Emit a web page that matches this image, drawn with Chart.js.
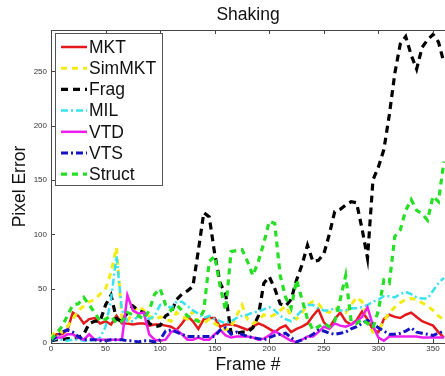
<!DOCTYPE html>
<html>
<head>
<meta charset="utf-8">
<script src="https://cdn.jsdelivr.net/npm/chart.js@4.4.1/dist/chart.umd.min.js"></script>
<style>
  html, body { margin: 0; padding: 0; background: #fff; }
  #wrap { width: 445px; height: 376px; }
</style>
</head>
<body>
<div id="wrap"><canvas id="myChart" width="445" height="376"></canvas></div>
<script>
// frame numbers (every 5 frames)
const frames = [0,5,10,15,20,25,30,35,40,45,50,55,60,65,70,75,80,85,90,95,
  100,105,110,115,120,125,130,135,140,145,150,155,160,165,170,175,180,185,190,195,
  200,205,210,215,220,225,230,235,240,245,250,255,260,265,270,275,280,285,290,295,
  300,305,310,315,320,325,330,335,340,345,350,355,360];

const mkt = [5,8,8,12,28,25,18,22,23,18, 20,17,25,18,18,17,18,18,16,17,
  17,16,15,12,18,25,20,13,22,23, 23,15,17,17,16,14,12,15,18,16,
  13,10,14,16,10,13,15,18,25,31, 19,14,22,28,20,17,21,29,22,12,
  10,22,26,24,23,26,28,24,20,18, 16,10,5];
const simMkt = [5,12,10,15,22,30,34,38,40,45, 50,65,88,22,20,28,34,30,25,21,
  24,22,20,28,24,22,29,20,18,22, 18,15,12,15,25,35,22,18,21,26,
  24,26,30,34,25,22,28,35,38,36, 30,28,32,30,28,35,42,38,20,10,
  12,20,28,33,37,40,41,40,37,34, 30,25,21];
const frag = [2,3,3,4,4,5,8,18,20,20, 35,44,22,20,28,34,30,28,18,15,
  16,25,28,40,45,48,52,85,120,116, 82,55,45,9,9,10,10,14,25,55,
  61,50,36,34,40,58,72,90,75,76, 82,100,121,123,127,130,129,105,78,150,
  162,178,210,248,275,282,265,252,272,279, 284,277,258];
const mil = [2,4,3,2,3,3,2,3,2,5, 15,40,80,30,20,20,25,26,22,25,
  35,36,32,38,38,34,30,27,23,25, 22,20,18,20,23,25,26,28,29,31,
  33,30,25,22,20,25,30,35,35,32, 30,30,32,30,30,32,32,33,35,38,
  40,43,43,42,45,47,45,42,41,41, 48,55,60];
const vtd = [3,5,5,8,8,5,3,8,3,3, 3,3,3,3,44,30,27,28,8,3,
  2,3,10,12,8,3,3,5,3,3, 8,12,7,5,6,6,6,5,3,4,
  7,11,8,5,2,1,3,6,6,10, 15,13,18,16,15,17,20,24,33,16,
  5,2,6,6,6,6,6,6,5,5, 5,5,5];
const vts = [2,6,10,12,10,6,3,3,3,2, 2,3,3,3,2,2,1,2,2,1,
  3,11,12,10,8,6,6,6,6,6, 6,12,14,8,10,8,6,5,4,3,
  5,7,8,9,5,1,3,5,8,12, 11,9,8,9,10,13,15,18,21,18,
  14,11,8,8,9,11,14,10,9,8, 7,9,11];
const struct = [3,9,15,25,35,36,42,35,28,20, 22,25,18,20,28,26,25,22,30,45,
  50,35,30,35,30,25,22,20,30,75, 80,52,30,84,85,86,75,62,75,92,
  112,110,62,42,32,58,40,22,12,15, 18,15,20,40,62,20,18,22,18,14,
  30,58,55,98,104,122,132,122,119,113, 135,130,167];

const xTicks = [0,50,100,150,200,250,300,350];
const yTicks = [0,50,100,150,200,250];

const FONT = '"Liberation Sans", Arial, Helvetica, sans-serif';

function series(label, values, color, dash, width, order) {
  return {
    label: label,
    data: frames.map((f, i) => ({x: f, y: values[i]})),
    borderColor: color,
    backgroundColor: color,
    borderDash: dash,
    borderWidth: width,
    pointRadius: 0,
    tension: 0,
    order: order
  };
}

// lines, ticks, legend and title like the matlab figure
const figurePlugin = {
  id: 'figurePlugin',
  afterDatasetsDraw(chart) {
    const {ctx, chartArea: a, scales} = chart;
    ctx.save();
    ctx.strokeStyle = '#444';
    ctx.lineWidth = 1;
    ctx.beginPath();
    ctx.moveTo(a.left, a.top + 0.5);
    ctx.lineTo(a.right, a.top + 0.5);
    xTicks.forEach(v => {
      const px = Math.round(scales.x.getPixelForValue(v)) + 0.5;
      ctx.moveTo(px, a.bottom); ctx.lineTo(px, a.bottom - 4);
      ctx.moveTo(px, a.top); ctx.lineTo(px, a.top + 4);
    });
    yTicks.forEach(v => {
      const py = Math.round(scales.y.getPixelForValue(v)) + 0.5;
      ctx.moveTo(a.left, py); ctx.lineTo(a.left + 4, py);
    });
    ctx.stroke();

    // legend box
    const lx = 55, ly = 33, lw = 107, lh = 152;
    ctx.fillStyle = '#fff';
    ctx.fillRect(lx, ly, lw, lh);
    ctx.strokeStyle = '#555';
    ctx.strokeRect(lx + 0.5, ly + 0.5, lw, lh);
    ctx.font = '17.5px ' + FONT;
    ctx.textBaseline = 'middle';
    chart.data.datasets.forEach((ds, i) => {
      const y = 47 + i * 21.2;
      ctx.strokeStyle = ds.borderColor;
      ctx.lineWidth = ds.borderWidth;
      ctx.setLineDash(ds.borderDash);
      ctx.beginPath();
      ctx.moveTo(61, y);
      ctx.lineTo(87, y);
      ctx.stroke();
      ctx.setLineDash([]);
      ctx.fillStyle = '#111';
      ctx.fillText(ds.label, 89, y + 1);
    });

    // title
    ctx.fillStyle = '#111';
    ctx.textAlign = 'center';
    ctx.fillText('Shaking', (a.left + a.right) / 2, 15);
    ctx.restore();
  }
};

const ctx = document.getElementById('myChart').getContext('2d');
const myChart = new Chart(ctx, {
  type: 'line',
  data: {
    datasets: [
      series('MKT', mkt, '#e3191c', [], 2.5, 7),
      series('SimMKT', simMkt, '#f2ec10', [6, 5], 3, 6),
      series('Frag', frag, '#000000', [7, 5], 3.2, 5),
      series('MIL', mil, '#38e2ee', [7, 3, 2, 3], 2.5, 4),
      series('VTD', vtd, '#ee1fee', [], 2.5, 3),
      series('VTS', vts, '#1414c4', [7, 3, 2, 3], 3, 2),
      series('Struct', struct, '#25e025', [6, 5], 3.2, 1)
    ]
  },
  options: {
    responsive: false,
    animation: false,
    layout: { padding: { top: 30, right: 0, left: 0, bottom: 0 } },
    plugins: {
      legend: { display: false },
      title: { display: false },
      tooltip: { enabled: false }
    },
    scales: {
      x: {
        type: 'linear',
        min: 0,
        max: 361,
        afterBuildTicks: s => { s.ticks = xTicks.map(v => ({value: v})); },
        afterFit: s => { s.height = 33; },
        grid: { display: false, drawTicks: false },
        border: { display: true, color: '#444', width: 1 },
        ticks: { padding: 1, color: '#333', font: { size: 8, family: FONT }, maxRotation: 0 },
        title: {
          display: true, text: 'Frame #', color: '#111',
          font: { size: 17.5, family: FONT }, padding: { top: 0, bottom: 0 }
        }
      },
      y: {
        min: 0,
        max: 288,
        afterBuildTicks: s => { s.ticks = yTicks.map(v => ({value: v})); },
        afterFit: s => { s.width = 51; },
        grid: { display: false, drawTicks: false },
        border: { display: true, color: '#444', width: 1 },
        ticks: { padding: 4, color: '#333', font: { size: 8, family: FONT } },
        title: {
          display: true, text: 'Pixel Error', color: '#111',
          font: { size: 17.5, family: FONT }, padding: { top: 10, bottom: 0 }
        }
      }
    }
  },
  plugins: [figurePlugin]
});
</script>
</body>
</html>
